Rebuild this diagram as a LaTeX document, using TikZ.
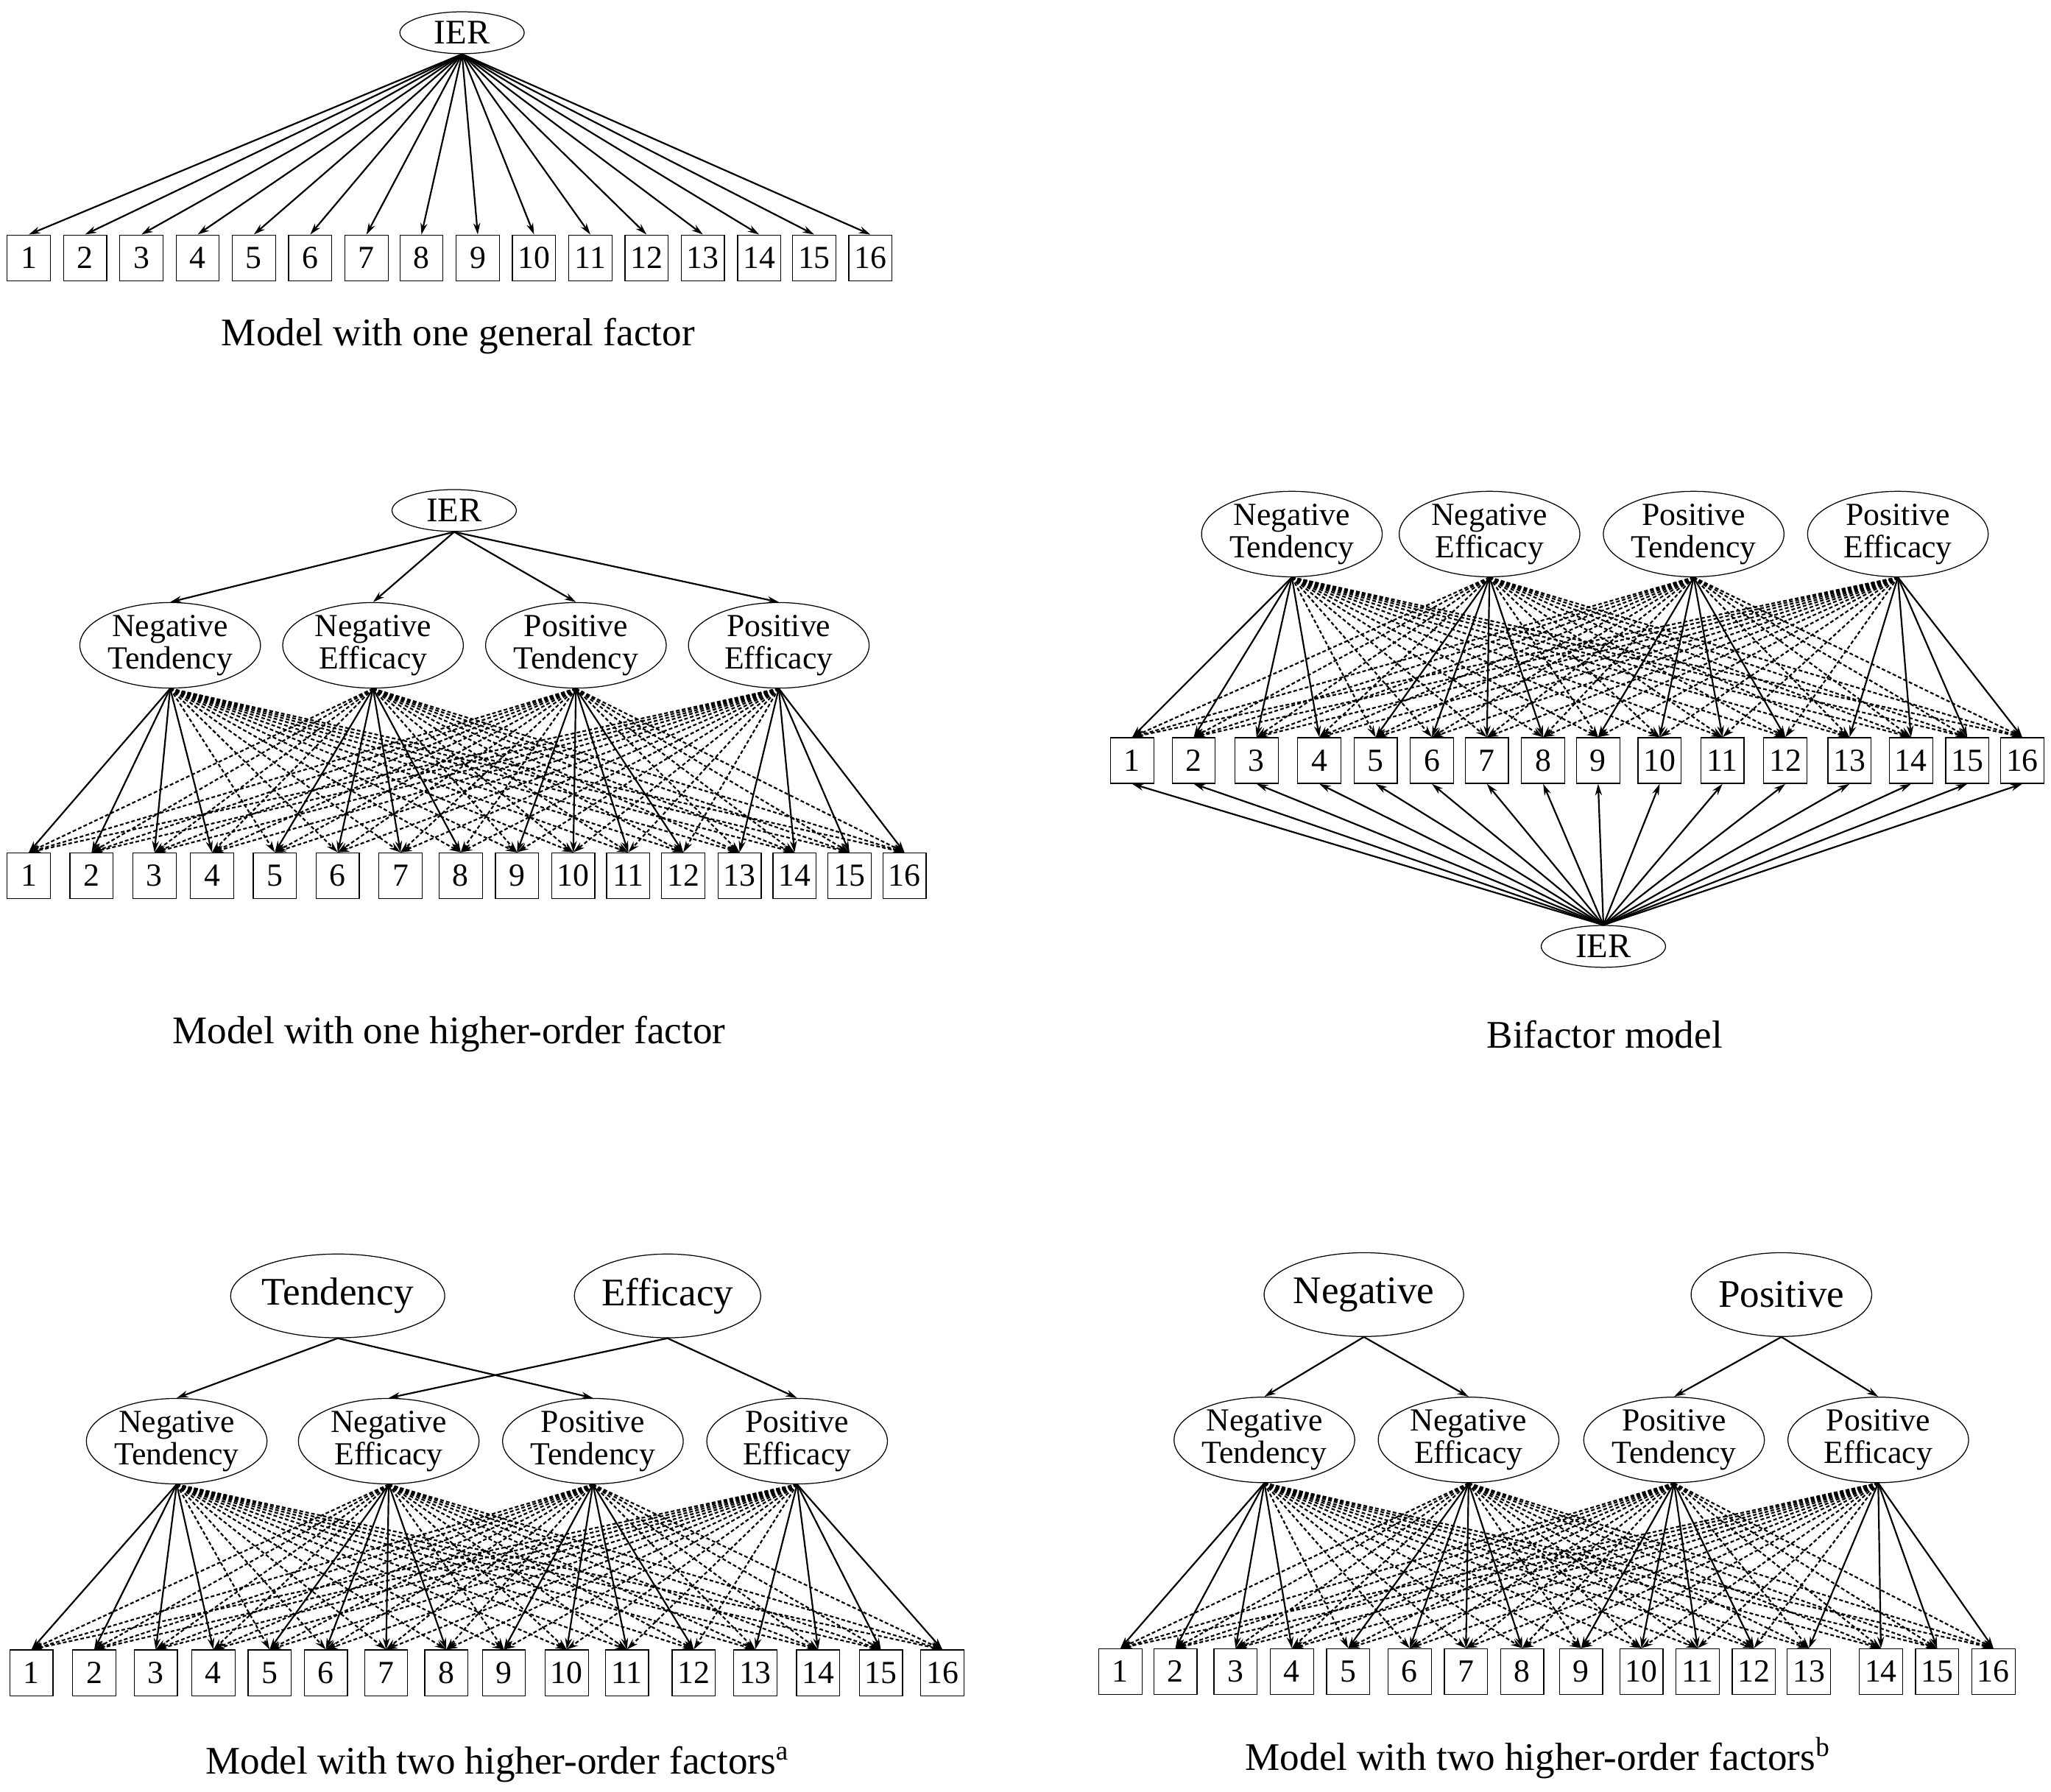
\documentclass[tikz,border=0pt]{standalone}
\usepackage{fontspec}
\setmainfont{Liberation Serif}
\usetikzlibrary{shapes.geometric,arrows.meta}
\def\un{*0.02cm}
\tikzset{
  item/.style={draw,rectangle,minimum width=33\un,minimum height=35\un,inner sep=0pt,font=\fontsize{14}{15}\selectfont},
  lat/.style={draw,ellipse,thin,minimum width=138\un,minimum height=64\un,inner sep=0pt,align=center,font=\fontsize{14}{14}\selectfont},
  gen/.style={draw,ellipse,thin,minimum width=95\un,minimum height=32\un,inner sep=0pt,font=\fontsize{15}{15}\selectfont},
  top/.style={draw,ellipse,thin,minimum width=145\un,minimum height=64\un,inner sep=0pt,font=\fontsize{17}{17}\selectfont},
  load/.style={-{Stealth[length=5pt,width=3pt]},line width=0.7pt},
  cross/.style={load,dash pattern=on 1.6pt off 1pt},
  caption/.style={font=\fontsize{17}{18}\selectfont}
}
\newcommand{\loadings}[2]{% prefix of factors, prefix of items
  \foreach \f in {1,...,4}{
    \foreach \j in {1,...,16}{
      \pgfmathtruncatemacro\blk{int((\j-1)/4)+1}
      \ifnum\blk=\f
        \draw[load] (#1\f.south) -- (#2\j.north);
      \else
        \draw[cross] (#1\f.south) -- (#2\j.north);
      \fi
    }
  }
}
\begin{document}
\begin{tikzpicture}[x=0.02cm,y=-0.02cm]
\useasboundingbox (0,0) rectangle (1567,1369);
% one general factor
\node[gen] (g1) at (353,25) {IER};
\foreach \x [count=\i] in {22,65,108,151,194,237,280,322,365,408,451,494,537,580,622,665}
  \node[item] (a\i) at (\x,197) {\i};
\foreach \i in {1,...,16} \draw[load] (g1.south) -- (a\i.north);
\node[caption] (c1) at (350,257) {Model with one general factor};
% higher-order
\node[gen] (g2) at (347,390) {IER};
\node[lat] (bf1) at (130,493) {Negative\\Tendency};
\node[lat] (bf2) at (285,493) {Negative\\Efficacy};
\node[lat] (bf3) at (440,493) {Positive\\Tendency};
\node[lat] (bf4) at (595,493) {Positive\\Efficacy};
\foreach \x [count=\i] in {22,70,118,162,210,258,306,352,395,438,480,522,565,607,649,691}
  \node[item] (b\i) at (\x,669) {\i};
\foreach \f in {1,...,4} \draw[load] (g2.south) -- (bf\f.north);
\loadings{bf}{b}
\node[caption] (c2) at (343,790) {Model with one higher-order factor};
% bifactor
\node[lat] (cf1) at (987,408) {Negative\\Tendency};
\node[lat] (cf2) at (1138,408) {Negative\\Efficacy};
\node[lat] (cf3) at (1294,408) {Positive\\Tendency};
\node[lat] (cf4) at (1450,408) {Positive\\Efficacy};
\foreach \x [count=\i] in {865,912,960,1008,1051,1094,1136,1179,1221,1268,1316,1364,1413,1460,1503,1545}
  \node[item] (c\i) at (\x,581) {\i};
\node[gen] (g3) at (1225,723) {IER};
\loadings{cf}{c}
\foreach \i in {1,...,16} \draw[load] (g3.north) -- (c\i.south);
\node[caption] (c3) at (1226,790) {Bifactor model};
% two higher-order a
\node[top] (t1) at (258,990) {Tendency};
\node[top,minimum width=138\un] (t2) at (510,990) {Efficacy};
\node[lat] (df1) at (135,1101) {Negative\\Tendency};
\node[lat] (df2) at (297,1101) {Negative\\Efficacy};
\node[lat] (df3) at (453,1101) {Positive\\Tendency};
\node[lat] (df4) at (609,1101) {Positive\\Efficacy};
\foreach \x [count=\i] in {24,72,119,163,206,249,295,341,385,433,479,530,577,625,673,720}
  \node[item] (d\i) at (\x,1278) {\i};
\draw[load] (t1.south) -- (df1.north);
\draw[load] (t1.south) -- (df3.north);
\draw[load] (t2.south) -- (df2.north);
\draw[load] (t2.south) -- (df4.north);
\loadings{df}{d}
\node[caption] (c4) at (380,1348) {Model with two higher-order factors\textsuperscript{a}};
% two higher-order b
\node[top,minimum width=138\un] (u1) at (1042,989) {Negative};
\node[top,minimum width=138\un] (u2) at (1361,989) {Positive};
\node[lat] (ef1) at (966,1100) {Negative\\Tendency};
\node[lat] (ef2) at (1122,1100) {Negative\\Efficacy};
\node[lat] (ef3) at (1279,1100) {Positive\\Tendency};
\node[lat] (ef4) at (1435,1100) {Positive\\Efficacy};
\foreach \x [count=\i] in {856,898,944,987,1030,1077,1120,1163,1208,1254,1297,1340,1382,1437,1480,1523}
  \node[item] (e\i) at (\x,1277) {\i};
\draw[load] (u1.south) -- (ef1.north);
\draw[load] (u1.south) -- (ef2.north);
\draw[load] (u2.south) -- (ef3.north);
\draw[load] (u2.south) -- (ef4.north);
\loadings{ef}{e}
\node[caption] (c5) at (1175,1343) {Model with two higher-order factors\textsuperscript{b}};
\end{tikzpicture}
\end{document}
